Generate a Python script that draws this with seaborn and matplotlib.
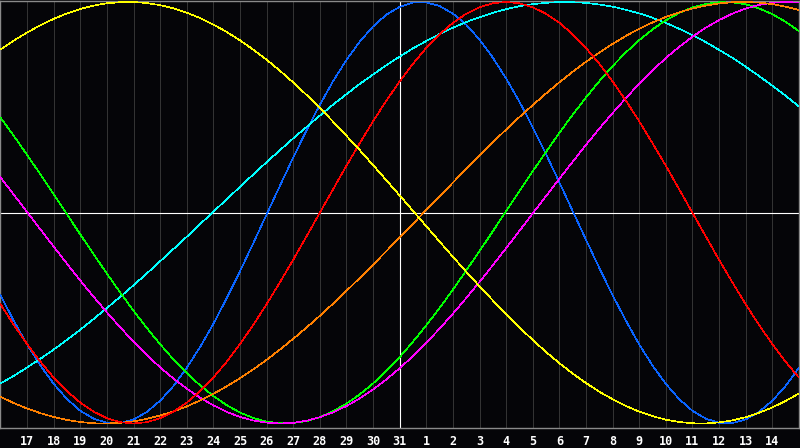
import pandas as pd
import matplotlib
matplotlib.use("Agg")
import matplotlib.pyplot as plt
import seaborn as sns

# day offsets from the 31st (centre of the chart); values read at whole and half days
days = list(range(-15, 16))
days_mid = [d + 0.5 for d in range(-15, 15)]
tick_days = list(range(-14, 15))
tick_labels = ["17", "18", "19", "20", "21", "22", "23", "24", "25", "26", "27", "28", "29", "30", "31",
               "1", "2", "3", "4", "5", "6", "7", "8", "9", "10", "11", "12", "13", "14"]

# cycle values (-1 .. 1)
blue = [-0.391, -0.625, -0.812, -0.940, -0.997, -0.981, -0.892, -0.736, -0.527, -0.278, -0.008,
        0.262, 0.512, 0.725, 0.884, 0.977, 0.998, 0.945, 0.822, 0.637, 0.406, 0.144,
        -0.128, -0.391, -0.625, -0.812, -0.940, -0.997, -0.981, -0.892, -0.736]
blue_mid = [-0.513, -0.725, -0.884, -0.977, -0.998, -0.945, -0.822, -0.637, -0.406, -0.144,
            0.128, 0.391, 0.625, 0.812, 0.940, 0.997, 0.981, 0.892, 0.736, 0.527,
            0.278, 0.008, -0.262, -0.512, -0.725, -0.884, -0.977, -0.998, -0.945, -0.822]
red = [-0.434, -0.623, -0.782, -0.901, -0.975, -1.000, -0.975, -0.901, -0.782, -0.623, -0.434,
       -0.223, 0.000, 0.223, 0.434, 0.623, 0.782, 0.901, 0.975, 1.000, 0.975, 0.901,
       0.782, 0.623, 0.434, 0.223, 0.000, -0.223, -0.434, -0.623, -0.782]
red_mid = [-0.532, -0.707, -0.847, -0.944, -0.994, -0.994, -0.944, -0.847, -0.707, -0.532,
           -0.330, -0.112, 0.112, 0.330, 0.532, 0.707, 0.847, 0.944, 0.994, 0.994,
           0.944, 0.847, 0.707, 0.532, 0.330, 0.112, -0.112, -0.330, -0.532, -0.707]
green = [0.452, 0.274, 0.088, -0.103, -0.289, -0.465, -0.624, -0.761, -0.870, -0.948, -0.991,
         -0.998, -0.970, -0.906, -0.810, -0.685, -0.534, -0.365, -0.182, 0.008, 0.197, 0.379,
         0.547, 0.696, 0.819, 0.913, 0.974, 0.999, 0.989, 0.942, 0.862]
green_mid = [0.365, 0.182, -0.008, -0.197, -0.379, -0.547, -0.696, -0.819, -0.913, -0.974,
             -0.999, -0.989, -0.942, -0.862, -0.751, -0.612, -0.452, -0.274, -0.088, 0.103,
             0.289, 0.465, 0.624, 0.761, 0.870, 0.948, 0.991, 0.998, 0.970, 0.906]
magenta = [0.168, 0.003, -0.161, -0.322, -0.473, -0.612, -0.734, -0.835, -0.914, -0.969, -0.996,
           -0.997, -0.970, -0.917, -0.839, -0.738, -0.617, -0.479, -0.328, -0.168, -0.003, 0.161,
           0.322, 0.473, 0.612, 0.734, 0.835, 0.914, 0.969, 0.996, 0.997]
magenta_mid = [0.086, -0.079, -0.242, -0.399, -0.544, -0.675, -0.787, -0.878, -0.945, -0.986,
               -1.000, -0.987, -0.947, -0.881, -0.791, -0.680, -0.550, -0.405, -0.249, -0.086,
               0.079, 0.242, 0.399, 0.544, 0.675, 0.787, 0.878, 0.945, 0.986, 1.000]
cyan = [-0.810, -0.734, -0.649, -0.555, -0.452, -0.344, -0.230, -0.114, 0.005, 0.123, 0.240,
        0.353, 0.461, 0.563, 0.656, 0.741, 0.815, 0.878, 0.928, 0.966, 0.990, 1.000,
        0.996, 0.978, 0.946, 0.901, 0.843, 0.773, 0.693, 0.603, 0.504]
cyan_mid = [-0.774, -0.693, -0.603, -0.504, -0.399, -0.288, -0.172, -0.054, 0.064, 0.182,
            0.297, 0.407, 0.513, 0.611, 0.700, 0.780, 0.848, 0.905, 0.949, 0.980,
            0.996, 0.999, 0.988, 0.963, 0.925, 0.873, 0.810, 0.735, 0.649, 0.555]
yellow = [0.775, 0.855, 0.920, 0.967, 0.994, 1.000, 0.985, 0.949, 0.893, 0.818, 0.726,
          0.618, 0.497, 0.365, 0.226, 0.082, -0.064, -0.209, -0.349, -0.482, -0.604, -0.714,
          -0.808, -0.885, -0.944, -0.982, -0.999, -0.995, -0.970, -0.924, -0.858]
yellow_mid = [0.817, 0.890, 0.946, 0.983, 0.999, 0.995, 0.970, 0.924, 0.858, 0.774,
              0.674, 0.559, 0.432, 0.297, 0.154, 0.009, -0.137, -0.280, -0.416, -0.544,
              -0.661, -0.763, -0.849, -0.917, -0.965, -0.993, -1.000, -0.985, -0.949, -0.893]
orange = [-0.873, -0.929, -0.969, -0.993, -1.000, -0.990, -0.962, -0.919, -0.859, -0.785, -0.698,
          -0.598, -0.489, -0.371, -0.246, -0.118, 0.013, 0.143, 0.271, 0.395, 0.511, 0.619,
          0.716, 0.801, 0.873, 0.929, 0.969, 0.993, 1.000, 0.990, 0.962]
orange_mid = [-0.903, -0.951, -0.983, -0.999, -0.997, -0.978, -0.943, -0.891, -0.824, -0.743,
              -0.649, -0.545, -0.431, -0.309, -0.182, -0.052, 0.078, 0.208, 0.334, 0.454,
              0.566, 0.669, 0.760, 0.839, 0.903, 0.951, 0.983, 0.999, 0.997, 0.978]

series = {"cyan": (cyan, cyan_mid), "orange": (orange, orange_mid),
          "yellow": (yellow, yellow_mid), "magenta": (magenta, magenta_mid),
          "green": (green, green_mid), "red": (red, red_mid), "blue": (blue, blue_mid)}
colors = {"cyan": "#00ffff", "orange": "#ff8000", "yellow": "#ffff00", "magenta": "#ff00ff",
          "green": "#00ff00", "red": "#ff0000", "blue": "#0a64ff"}

rows = []
for name, (whole, half) in series.items():
    for d, v in zip(days, whole):
        rows.append({"day": d, "value": v, "cycle": name})
    for d, v in zip(days_mid, half):
        rows.append({"day": d, "value": v, "cycle": name})
df = pd.DataFrame(rows).sort_values(["cycle", "day"])

bg = "#050508"
fig = plt.figure(figsize=(8, 4.48), dpi=100, facecolor=bg)
ax = fig.add_axes([0.0006, 20 / 448, 0.998, 427.5 / 448])
ax.set_facecolor(bg)

ax.set_xticks(tick_days)
ax.xaxis.grid(True, color="#333333", linewidth=0.75)
ax.yaxis.grid(False)
ax.set_axisbelow(True)
ax.axvline(0, color="white", linewidth=0.8, zorder=1)
ax.axhline(0, color="white", linewidth=0.8, zorder=1)

sns.lineplot(data=df, x="day", y="value", hue="cycle", palette=colors, estimator=None,
             sort=True, legend=False, linewidth=0.45, ax=ax, zorder=3)
# pixel-crisp curves like the original
for ln in ax.get_lines():
    if ln.get_zorder() == 3:
        ln.set_antialiased(False)

ax.set_xlim(-15, 15)
ax.set_ylim(-1.0214, 1.0071)
ax.set_xticklabels(tick_labels, color="white", fontweight="bold",
                   family="DejaVu Sans Mono", fontsize=8.5)
ax.tick_params(axis="x", length=0, pad=5)
ax.set_yticks([])
ax.set_xlabel("")
ax.set_ylabel("")
for s in ax.spines.values():
    s.set_color("#8a8a8a")
    s.set_linewidth(1.0)

fig.savefig("out.png", dpi=100, facecolor=bg)
